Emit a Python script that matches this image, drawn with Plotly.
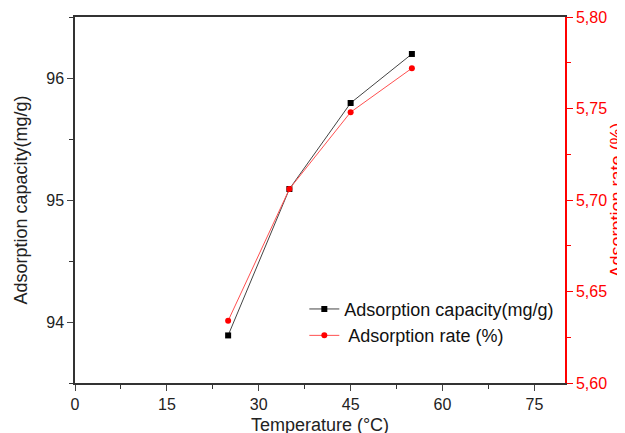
import plotly.graph_objects as go

temperature = [25, 35, 45, 55]
capacity = [93.89, 95.09, 95.795, 96.197]
rate = [5.634, 5.706, 5.748, 5.772]

font_name = "Liberation Sans, Arial, sans-serif"

fig = go.Figure()

fig.add_trace(go.Scatter(x=temperature, y=capacity,
                         mode='lines+markers',
                         name='Adsorption capacity(mg/g)',
                         line=dict(color='#444444', width=1),
                         marker=dict(symbol='square', size=6, color='black')))

fig.add_trace(go.Scatter(x=temperature, y=rate,
                         mode='lines+markers',
                         name=' Adsorption rate (%)',
                         yaxis='y2',
                         line=dict(color='#ff5050', width=1),
                         marker=dict(symbol='circle', size=6, color='red')))

# the page body adds an 8px offset, so margins are shifted to compensate
fig.update_layout(
    width=625, height=433,
    margin=dict(l=67, r=68, t=9, b=58, autoexpand=False),
    plot_bgcolor='white', paper_bgcolor='white',
    font=dict(family=font_name, size=16, color='#222222'),
    showlegend=True,
    legend=dict(x=0.468, y=0.252, xanchor='left', yanchor='top',
                bgcolor='rgba(0,0,0,0)', font=dict(size=18, color='#111111'),
                tracegroupgap=0, itemwidth=30),
    xaxis=dict(range=[0, 80], tick0=0, dtick=15, ticks='outside', ticklen=6,
               showline=True, linecolor='#333333', linewidth=1.5, mirror=True,
               showgrid=False, zeroline=False, automargin=False,
               minor=dict(ticks='outside', dtick=7.5, ticklen=4, tickcolor='#333333'),
               title=dict(text='Temperature (°C)', font=dict(size=18), standoff=6)),
    yaxis=dict(range=[93.5, 96.5], dtick=1, ticks='outside', ticklen=6,
               showline=True, linecolor='#333333', linewidth=1.5,
               showgrid=False, zeroline=False, automargin=False,
               minor=dict(ticks='outside', dtick=0.5, ticklen=4, tickcolor='#333333'),
               title=dict(text='Adsorption capacity(mg/g)', font=dict(size=18), standoff=14)),
    yaxis2=dict(range=[5.60, 5.80], dtick=0.05, tickformat='.2f',
                overlaying='y', side='right', ticks='outside', ticklen=6,
                showline=True, linecolor='red', linewidth=1.5, tickcolor='red',
                tickfont=dict(color='red'), showgrid=False, zeroline=False, automargin=False,
                minor=dict(ticks='outside', dtick=0.025, ticklen=4, tickcolor='red'),
                title=dict(text='Adsorption rate (%)', font=dict(size=18, color='red'), standoff=1)),
    separators=',.',
)

fig.write_html("out.html")
